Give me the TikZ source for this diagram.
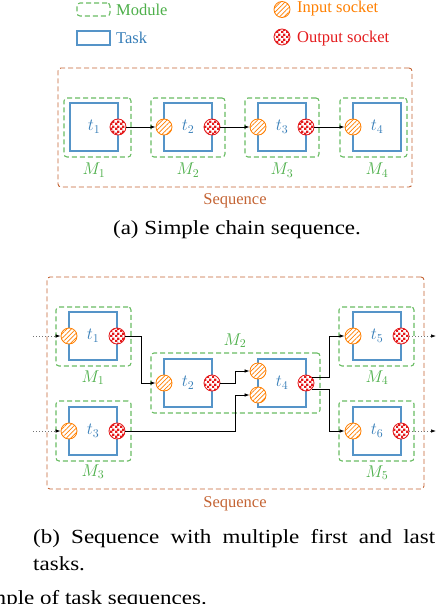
\documentclass[tikz,border=0pt]{standalone}
\usepackage{fix-cm}
\usepackage{fontspec}
\setmainfont{Liberation Serif}
\newfontfamily\capfont[FakeStretch=1.15]{Liberation Serif}
\usetikzlibrary{patterns,patterns.meta,arrows.meta,calc}
\definecolor{modgreen}{RGB}{77,175,74}
\definecolor{modline}{RGB}{105,188,98}
\definecolor{taskblue}{RGB}{55,126,184}
\definecolor{taskline}{RGB}{85,148,200}
\definecolor{inorange}{RGB}{255,127,0}
\definecolor{outred}{RGB}{228,26,28}
\definecolor{seqbrown}{RGB}{196,100,52}
\tikzdeclarepattern{
  name=finecheck,
  type=uncolored,
  bounding box={(0pt,0pt) and (4.6pt,4.6pt)},
  tile size={(4.6pt,4.6pt)},
  code={
    \fill (0pt,0pt) rectangle (2.35pt,2.35pt);
    \fill (2.3pt,2.3pt) rectangle (4.65pt,4.65pt);
  }
}
\begin{document}
\begin{tikzpicture}[x=1pt,y=-1pt,
  lbl/.style={font=\fontsize{16.5}{20}\selectfont, inner sep=0pt},
  mlbl/.style={font=\fontsize{17}{20}\selectfont, inner sep=0pt, text=modgreen, anchor=base},
  captext/.style={font=\capfont\fontsize{20}{27}\selectfont, inner sep=0pt},
  task/.style={draw=taskline, line width=1.1pt, minimum width=48pt, minimum height=48pt, inner sep=0pt, text=taskblue, font=\fontsize{17}{20}\selectfont},
  module/.style={draw=modline, line width=1.1pt, dash pattern=on 5pt off 3pt, rounded corners=3pt, inner sep=0pt},
  seqbox/.style={draw=seqbrown, line width=0.9pt, dash pattern=on 5pt off 3pt, rounded corners=3pt, inner sep=0pt},
  insock/.style={circle, draw=inorange, line width=0.8pt, minimum size=16pt, inner sep=0pt, preaction={fill=white}, pattern={Lines[angle=45,distance=3.2pt,line width=0.7pt]}, pattern color=inorange},
  outsock/.style={circle, draw=outred, line width=0.8pt, minimum size=16pt, inner sep=0pt, preaction={fill=white}, pattern=finecheck, pattern color=outred},
  arr/.style={draw=black, line width=0.7pt, -{Latex[length=5pt,width=3.5pt]}},
  dotarr/.style={draw=black!55, line width=0.7pt, dash pattern=on 1pt off 2pt, -{Latex[length=5pt,width=3.5pt,color=black]}}
]
\useasboundingbox (0,0) rectangle (438,604);

% ---------- legend ----------
\node[module, minimum width=33pt, minimum height=13pt] (legmod) at (93.5,9.5) {};
\node[lbl, text=modgreen, anchor=base west] (legmodt) at (116,15.5) {Module};
\node[draw=taskline, line width=1.1pt, minimum width=33pt, minimum height=14pt, inner sep=0pt] (legtask) at (93.5,38) {};
\node[lbl, text=taskblue, anchor=base west] (legtaskt) at (116,43.5) {Task};
\node[insock] (legin) at (282,9.5) {};
\node[lbl, text=inorange, anchor=base west] (legint) at (297,13) {Input socket};
\node[outsock] (legout) at (282,37) {};
\node[lbl, text=outred, anchor=base west] (legoutt) at (297,43) {Output socket};

% ---------- panel (a) ----------
\node[seqbox, minimum width=354pt, minimum height=119pt] (seqa) at (235,127.5) {};
\node[lbl, text=seqbrown, anchor=base] (seqat) at (235,204) {Sequence};

\node[module, minimum width=67pt, minimum height=59pt] (ma1) at (97.5,127.5) {};
\node[module, minimum width=74pt, minimum height=59pt] (ma2) at (188,127.5) {};
\node[module, minimum width=74pt, minimum height=59pt] (ma3) at (282,127.5) {};
\node[module, minimum width=67pt, minimum height=59pt] (ma4) at (373.5,127.5) {};

\node[task] (ta1) at (94,127) {$t_1$};
\node[task] (ta2) at (188,127) {$t_2$};
\node[task] (ta3) at (282,127) {$t_3$};
\node[task] (ta4) at (377,127) {$t_4$};

\node[mlbl] (mla1) at (94,175) {$M_1$};
\node[mlbl] (mla2) at (188,175) {$M_2$};
\node[mlbl] (mla3) at (282,175) {$M_3$};
\node[mlbl] (mla4) at (377,175) {$M_4$};

\node[outsock] (oa1) at (118,127) {};
\node[insock] (ia2) at (164,127) {};
\node[outsock] (oa2) at (212,127) {};
\node[insock] (ia3) at (258,127) {};
\node[outsock] (oa3) at (306,127) {};
\node[insock] (ia4) at (353,127) {};

\draw[arr] (oa1) -- (ia2);
\draw[arr] (oa2) -- (ia3);
\draw[arr] (oa3) -- (ia4);

\node[captext, anchor=base] (capa) at (237,234.5) {(a) Simple chain sequence.};

% ---------- panel (b) ----------
\node[seqbox, minimum width=377pt, minimum height=212pt] (seqb) at (235.5,383) {};
\node[lbl, text=seqbrown, anchor=base] (seqbt) at (235,507) {Sequence};

\node[module, minimum width=75pt, minimum height=59pt] (mb1) at (93.5,336.5) {};
\node[module, minimum width=75pt, minimum height=60pt] (mb3) at (93.5,431) {};
\node[module, minimum width=169pt, minimum height=60pt] (mb2) at (235.5,383) {};
\node[module, minimum width=75pt, minimum height=59pt] (mb4) at (376.5,336.5) {};
\node[module, minimum width=75pt, minimum height=60pt] (mb5) at (376.5,431) {};

\node[task] (tb1) at (93,336) {$t_1$};
\node[task] (tb3) at (93,431) {$t_3$};
\node[task] (tb2) at (188,383) {$t_2$};
\node[task] (tb4) at (282,383) {$t_4$};
\node[task] (tb5) at (377,336) {$t_5$};
\node[task] (tb6) at (377,431) {$t_6$};

\node[mlbl] (mlb1) at (93,382) {$M_1$};
\node[mlbl] (mlb3) at (93,476) {$M_3$};
\node[mlbl] (mlb2) at (235,345) {$M_2$};
\node[mlbl] (mlb4) at (377,382) {$M_4$};
\node[mlbl] (mlb5) at (377,477) {$M_5$};

\node[insock] (ib1) at (69,336) {};
\node[outsock] (ob1) at (117,336) {};
\node[insock] (ib3) at (69,431) {};
\node[outsock] (ob3) at (117,431) {};
\node[insock] (ib2) at (164,383) {};
\node[outsock] (ob2) at (212,383) {};
\node[insock] (ib4a) at (258,371) {};
\node[insock] (ib4b) at (258,395) {};
\node[outsock] (ob4) at (306,383) {};
\node[insock] (ib5) at (353,336) {};
\node[outsock] (ob5) at (401,336) {};
\node[insock] (ib6) at (353,431) {};
\node[outsock] (ob6) at (401,431) {};

\coordinate (s1) at (33,336);
\coordinate (s3) at (33,431);
\coordinate (e5) at (436,336);
\coordinate (e6) at (436,431);
\coordinate (j1) at (141,0);
\coordinate (j2) at (235,0);
\coordinate (j3) at (329,0);

\draw[dotarr] (s1) -- (ib1);
\draw[dotarr] (s3) -- (ib3);
\draw[dotarr] (ob5) -- (e5);
\draw[dotarr] (ob6) -- (e6);

\draw[arr] (ob1) -- (ob1 -| j1) |- (ib2);
\draw[arr] (ob2) -- (ob2 -| j2) |- (ib4a);
\draw[arr] (ob3) -- (ob3 -| j2) |- (ib4b);
\draw[arr] (ob4.45) -- (ob4.45 -| j3) |- (ib5);
\draw[arr] (ob4.-45) -- (ob4.-45 -| j3) |- (ib6);

\node[captext, anchor=base west] (capb1) at (33,543) {\makebox[402pt][s]{(b) Sequence with multiple first and last}};
\node[captext, anchor=base west] (capb2) at (33,570) {tasks.};
\node[captext, anchor=base east] (capfig) at (207,604.5) {mple of task sequences.};
\end{tikzpicture}
\end{document}
